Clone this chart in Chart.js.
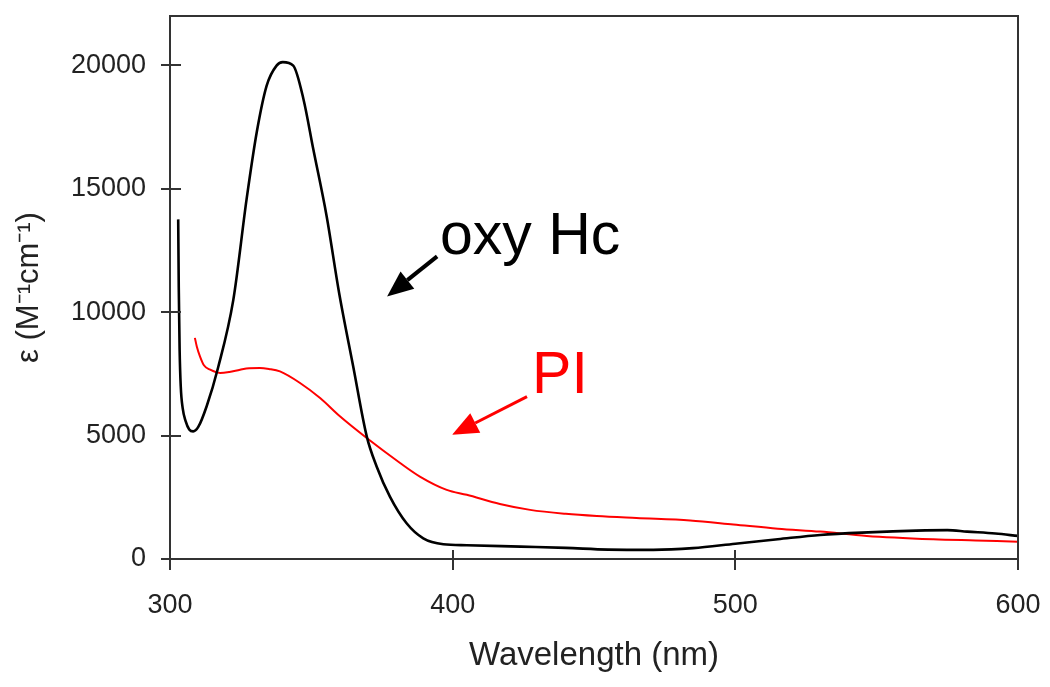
<!DOCTYPE html>
<html>
<head>
<meta charset="utf-8">
<title>oxy Hc vs PI</title>
<script src="https://cdn.jsdelivr.net/npm/chart.js@4"></script>
<style>
    body { margin: 0; background: #fff; }
</style>
</head>
<body>
<canvas id="myChart" width="1050" height="687"></canvas>
<script>
// Wavelength (nm) and extinction coefficient for oxy Hc (black)
const wlOxy = [302.9, 303.1, 303.4, 303.8, 304.5, 305.5, 306.8, 308.2, 310, 313, 317, 322.4, 327.1, 330.7, 334.2, 337.7, 339.9,
    343.6, 347.2, 350.7, 355.4, 359.8, 364.8, 369.6, 373.1, 377.8, 383.7, 389.6, 396.7, 405, 424, 440, 455, 471, 485,
    500, 515, 530, 547, 564, 575, 582, 592, 600];
const epsOxy = [13760, 11000, 8500, 7000, 6100, 5600, 5250, 5170, 5350, 6200, 7750, 10500, 14580, 17300, 19180, 19990, 20130,
    19990, 18640, 16600, 13900, 10800, 7810, 4970, 3750, 2530, 1450, 840, 600, 560, 500, 450, 380, 370, 440,
    620, 800, 975, 1080, 1150, 1170, 1110, 1030, 935];

// Wavelength (nm) and extinction coefficient for PI (red)
const wlPI = [308.8, 309.5, 310.6, 312, 314.2, 317.7, 321, 324.8, 328, 331.8, 335, 338.9, 346, 353.1, 360.1, 369.6, 381.4,
    388.4, 397.9, 405, 416.7, 427.4, 440, 451, 465, 484, 499.3, 515, 530, 546.5, 570, 585, 600];
const epsPI = [8960, 8600, 8210, 7850, 7670, 7540, 7580, 7670, 7730, 7740, 7700, 7600, 7130, 6520, 5780, 4900, 3890,
    3340, 2800, 2600, 2230, 1990, 1830, 1740, 1660, 1560, 1400, 1230, 1110, 935, 800, 750, 700];

// Axis ticks
const xTicks = [300, 400, 500, 600];
const yTicks = [0, 5000, 10000, 15000, 20000];

// Text labels with arrows, in data coordinates
const labels = [
    { text: 'oxy Hc', x: 395.5, y: 12340, color: '#000', from: [394.5, 12260], to: [376.8, 10640], width: 4 },
    { text: 'PI', x: 428.1, y: 6740, color: '#ff0000', from: [426.3, 6580], to: [399.8, 5030], width: 3 }
];

const FONT = "'Liberation Sans', Arial, sans-serif";

// Pair up x and y arrays for the scatter lines
function toPoints(xs, ys) {
    const pts = [];
    for (let i = 0; i < xs.length; i++) {
        pts.push({ x: xs[i], y: ys[i] });
    }
    return pts;
}

// Draws the box frame and the tick marks that cross the axes
const framePlugin = {
    id: 'frame',
    afterDraw(chart) {
        const c = chart.ctx;
        const a = chart.chartArea;
        const xs = chart.scales.x;
        const ys = chart.scales.y;
        c.save();
        c.strokeStyle = '#333';
        c.lineWidth = 2;
        c.strokeRect(a.left, a.top, a.right - a.left, a.bottom - a.top);
        c.beginPath();
        yTicks.forEach(v => {
            const py = Math.round(ys.getPixelForValue(v));
            c.moveTo(a.left - 9, py);
            c.lineTo(a.left + 11, py);
        });
        xTicks.forEach(v => {
            const px = Math.round(xs.getPixelForValue(v));
            c.moveTo(px, a.bottom - 9);
            c.lineTo(px, a.bottom + 11);
        });
        c.stroke();
        c.restore();
    }
};

// Draws the curve names and their arrows
const labelPlugin = {
    id: 'curveLabels',
    afterDraw(chart) {
        const c = chart.ctx;
        const xs = chart.scales.x;
        const ys = chart.scales.y;
        c.save();
        labels.forEach(l => {
            c.fillStyle = l.color;
            c.strokeStyle = l.color;
            c.font = '59px ' + FONT;
            c.textBaseline = 'alphabetic';
            c.textAlign = 'left';
            c.fillText(l.text, xs.getPixelForValue(l.x), ys.getPixelForValue(l.y));

            const x1 = xs.getPixelForValue(l.from[0]), y1 = ys.getPixelForValue(l.from[1]);
            const x2 = xs.getPixelForValue(l.to[0]), y2 = ys.getPixelForValue(l.to[1]);
            const ang = Math.atan2(y2 - y1, x2 - x1);
            const head = 26, half = 11;
            const bx = x2 - head * Math.cos(ang), by = y2 - head * Math.sin(ang);
            c.lineWidth = l.width;
            c.beginPath();
            c.moveTo(x1, y1);
            c.lineTo(bx, by);
            c.stroke();
            c.beginPath();
            c.moveTo(x2, y2);
            c.lineTo(bx + half * Math.sin(ang), by - half * Math.cos(ang));
            c.lineTo(bx - half * Math.sin(ang), by + half * Math.cos(ang));
            c.closePath();
            c.fill();
        });
        c.restore();
    }
};

const ctx = document.getElementById('myChart');

new Chart(ctx, {
    type: 'scatter',
    data: {
        datasets: [
            {
                label: 'oxy Hc',
                data: toPoints(wlOxy, epsOxy),
                showLine: true,
                borderColor: '#000',
                borderWidth: 2.6,
                pointRadius: 0,
                cubicInterpolationMode: 'monotone'
            },
            {
                label: 'PI',
                data: toPoints(wlPI, epsPI),
                showLine: true,
                borderColor: '#ff0000',
                borderWidth: 2,
                pointRadius: 0,
                cubicInterpolationMode: 'monotone'
            }
        ]
    },
    options: {
        responsive: false,
        animation: false,
        layout: { padding: { top: 16, right: 32, left: 0, bottom: 0 } },
        plugins: {
            legend: { display: false },
            tooltip: { enabled: false }
        },
        scales: {
            x: {
                type: 'linear',
                min: 300,
                max: 600,
                afterBuildTicks: s => { s.ticks = xTicks.map(v => ({ value: v })); },
                // fixed height, and no extra side padding for the end labels
                afterFit: s => { s.height = 128; s.paddingLeft = 0; s.paddingRight = 0; },
                grid: { display: false, drawTicks: false },
                border: { display: false },
                ticks: {
                    padding: 30,
                    color: '#222',
                    font: { family: FONT, size: 27 }
                },
                title: {
                    display: true,
                    text: 'Wavelength (nm)',
                    color: '#222',
                    font: { family: FONT, size: 33 },
                    padding: { top: 0, bottom: 11 }
                }
            },
            y: {
                min: 0,
                max: 22000,
                afterBuildTicks: s => { s.ticks = yTicks.map(v => ({ value: v })); },
                afterFit: s => { s.width = 170; s.paddingTop = 0; s.paddingBottom = 0; },
                grid: { display: false, drawTicks: false },
                border: { display: false },
                ticks: {
                    padding: 24,
                    color: '#222',
                    font: { family: FONT, size: 27 },
                    callback: v => String(v)
                },
                title: {
                    display: true,
                    text: 'ε (M⁻¹cm⁻¹)',
                    color: '#222',
                    font: { family: FONT, size: 31 },
                    padding: { top: 11, bottom: 0 }
                }
            }
        }
    },
    plugins: [framePlugin, labelPlugin]
});
</script>
</body>
</html>
